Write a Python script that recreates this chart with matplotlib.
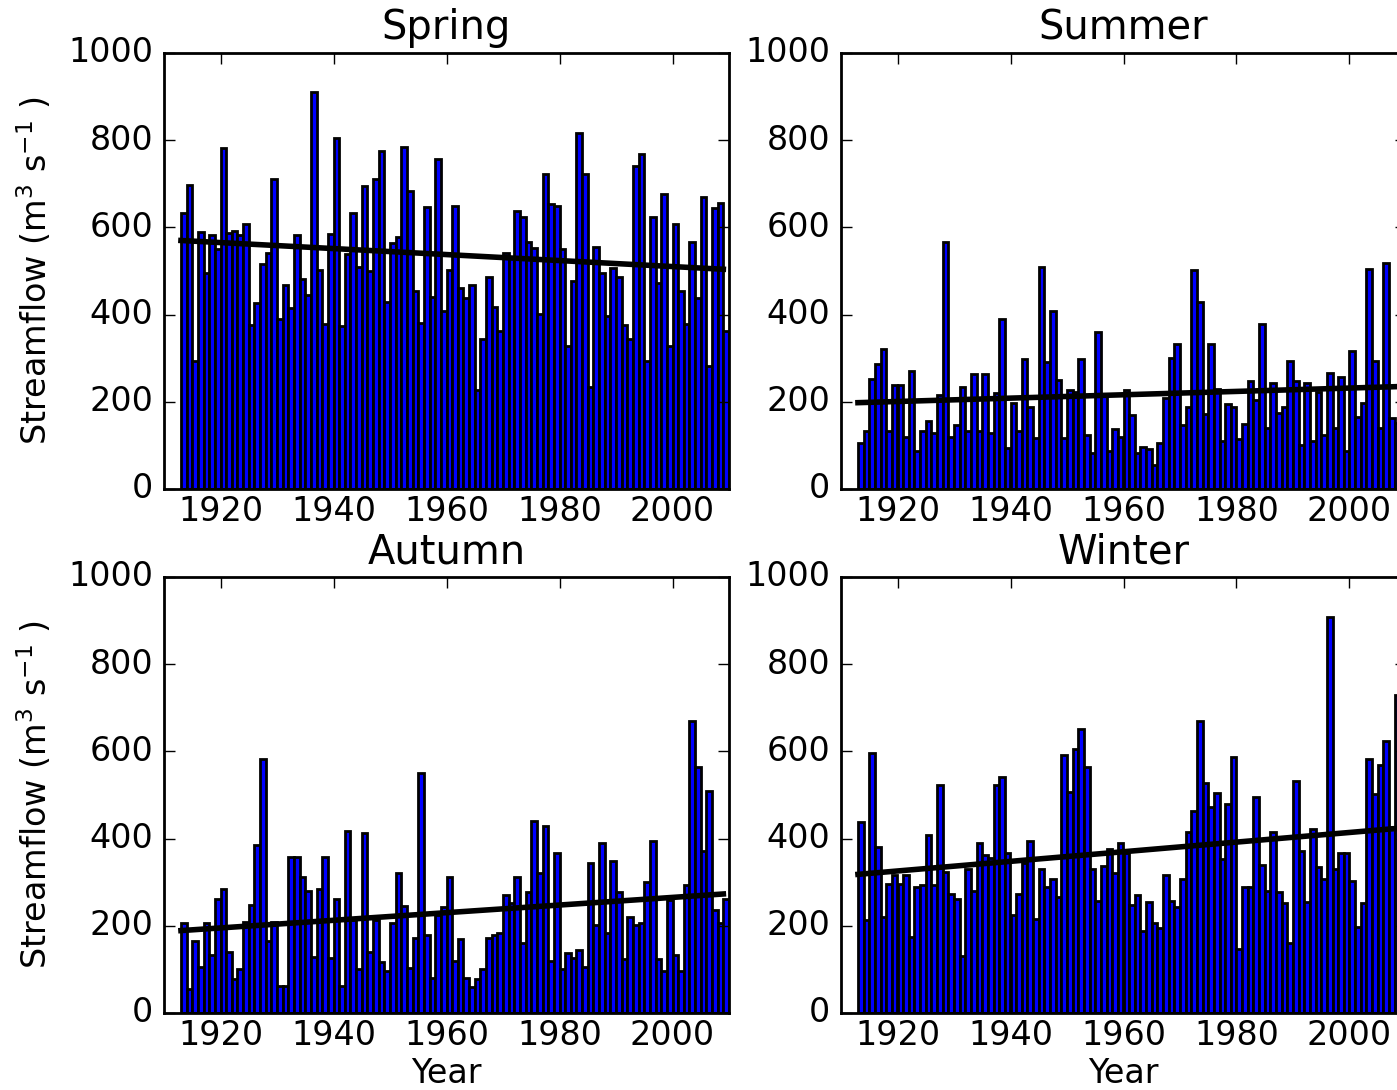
import matplotlib
matplotlib.use('Agg')
import matplotlib.pyplot as plt
import numpy as np

plt.style.use('classic')
plt.rcParams['font.family'] = ['DejaVu Sans']
plt.rcParams['mathtext.fontset'] = 'dejavusans'
plt.rcParams['figure.facecolor'] = 'white'
plt.rcParams['savefig.facecolor'] = 'white'
plt.rcParams['axes.formatter.useoffset'] = False
plt.rcParams['xtick.major.pad'] = 2.0

years = list(range(1913, 2010))

spring = [634, 697, 294, 589, 496, 583, 550, 781, 588, 592,
          583, 607, 376, 427, 515, 542, 712, 389, 469, 414,
          583, 482, 444, 910, 502, 378, 584, 804, 374, 538,
          634, 510, 695, 501, 712, 776, 430, 565, 579, 785,
          684, 455, 381, 647, 441, 758, 409, 502, 648, 460,
          437, 468, 227, 344, 487, 418, 363, 542, 530, 638,
          625, 566, 552, 401, 722, 653, 648, 550, 328, 478,
          817, 722, 235, 556, 496, 397, 506, 487, 376, 344,
          741, 768, 294, 625, 473, 677, 328, 607, 455, 378,
          566, 437, 670, 281, 644, 657, 363]

summer = [106, 133, 252, 286, 322, 133, 239, 239, 120, 271,
          88, 133, 157, 128, 216, 566, 120, 147, 235, 133,
          263, 133, 263, 128, 221, 391, 93, 198, 133, 298,
          189, 116, 510, 291, 409, 250, 116, 227, 223, 298,
          124, 82, 359, 216, 88, 138, 120, 227, 170, 83,
          97, 91, 55, 106, 208, 300, 332, 147, 189, 502,
          428, 171, 332, 229, 111, 194, 189, 115, 148, 248,
          204, 378, 139, 244, 175, 189, 294, 248, 101, 244,
          111, 223, 124, 267, 140, 258, 87, 317, 166, 198,
          505, 294, 140, 519, 162, 152, 150]

autumn = [206, 54, 165, 105, 206, 133, 261, 284, 141, 78,
          100, 209, 248, 385, 583, 165, 209, 63, 63, 357,
          357, 311, 280, 129, 284, 357, 127, 261, 63, 417,
          213, 100, 412, 141, 213, 118, 96, 206, 320, 246,
          104, 173, 550, 179, 80, 225, 242, 311, 119, 169,
          81, 60, 77, 100, 173, 179, 183, 271, 252, 311,
          160, 278, 440, 320, 430, 119, 366, 100, 137, 127,
          144, 106, 343, 202, 389, 183, 349, 278, 123, 221,
          202, 206, 301, 394, 123, 96, 259, 133, 96, 294,
          670, 565, 372, 509, 236, 206, 261]

winter = [437, 213, 596, 380, 221, 297, 317, 297, 317, 175,
          290, 294, 408, 294, 523, 324, 274, 261, 131, 330,
          280, 391, 362, 355, 523, 541, 368, 225, 274, 343,
          394, 216, 330, 290, 307, 267, 592, 508, 606, 651,
          565, 330, 257, 338, 376, 320, 389, 366, 248, 271,
          188, 255, 206, 196, 317, 257, 244, 307, 414, 463,
          670, 528, 472, 504, 353, 479, 588, 146, 290, 290,
          495, 339, 280, 414, 278, 252, 161, 532, 372, 255,
          421, 334, 307, 909, 330, 366, 366, 303, 198, 252,
          583, 502, 569, 625, 427, 729, 500]

# linear trend lines: value at first year and at last year
trend_years = [1913, 2009]
spring_trend = [570, 504]
summer_trend = [198, 235]
autumn_trend = [189, 273]
winter_trend = [318, 424]

seasons = ['Spring', 'Summer', 'Autumn', 'Winter']
season_data = [spring, summer, autumn, winter]
season_trends = [spring_trend, summer_trend, autumn_trend, winter_trend]

xticks = [1920, 1940, 1960, 1980, 2000]
yticks = [0, 200, 400, 600, 800, 1000]
ylabel = 'Streamflow (m$^3$ s$^{-1}$ )'

W, H = 1397, 1090
fig = plt.figure(figsize=(W / 200, H / 200), dpi=200)

# axes rectangles in pixels (left, top, right, bottom)
px_boxes = [(164, 53, 729, 489), (841, 53, 1406, 489),
            (164, 577, 729, 1013), (841, 577, 1406, 1013)]

for k, (name, vals, tr) in enumerate(zip(seasons, season_data, season_trends)):
    l, t, r, b = px_boxes[k]
    ax = fig.add_axes([l / W, 1 - b / H, (r - l) / W, (b - t) / H])
    ax.bar(years, vals, width=1.0, align='edge', color='b', edgecolor='k')
    ax.plot(trend_years, tr, color='k', lw=2)
    ax.set_xlim(1910, 2010)
    ax.set_ylim(0, 1000)
    ax.set_xticks(xticks)
    ax.set_yticks(yticks)
    ax.ticklabel_format(useOffset=False)
    ax.set_title(name)
    if k % 2 == 0:
        ax.set_ylabel(ylabel)
    if k >= 2:
        ax.set_xlabel('Year', labelpad=2)

fig.savefig('out.png', dpi=200)
